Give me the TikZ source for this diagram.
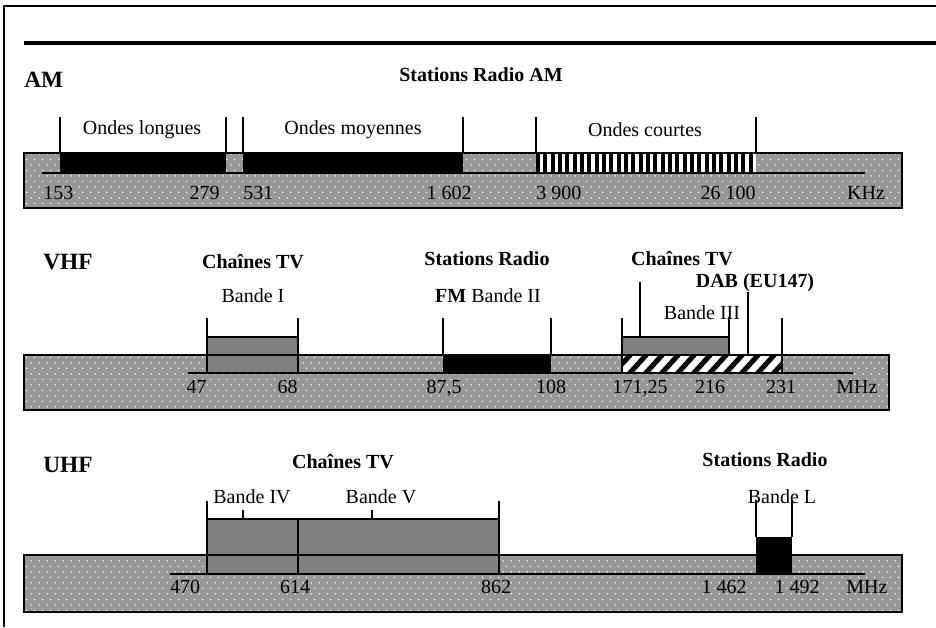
\documentclass[tikz,border=0pt]{standalone}
\usepackage{fontspec}
\setmainfont{Liberation Serif}
\usetikzlibrary{patterns}
\definecolor{bargray}{HTML}{979797}
\definecolor{boxgray}{HTML}{808080}
\definecolor{dotcol}{HTML}{F2F2F2}
\pgfdeclarepatternformonly{dotgrid}{\pgfqpoint{0pt}{0pt}}{\pgfqpoint{4.5pt}{6.6pt}}{\pgfqpoint{4.5pt}{6.6pt}}{%
  \pgfpathcircle{\pgfqpoint{0.7pt}{0.7pt}}{0.55pt}%
  \pgfpathcircle{\pgfqpoint{2.95pt}{4.0pt}}{0.55pt}%
  \pgfusepath{fill}}
\tikzset{
  txt/.style={font=\fontsize{12}{14}\selectfont, inner sep=0pt},
  num/.style={font=\fontsize{12}{14}\selectfont, inner sep=0pt, text depth=0pt},
  hd/.style={font=\fontsize{12}{14}\selectfont\bfseries, inner sep=0pt},
  band/.style={font=\fontsize{14}{16}\selectfont\bfseries, inner sep=0pt, anchor=west},
  tick/.style={line width=0.7pt},
  axis/.style={line width=0.7pt},
  barbg/.style={fill=bargray},
  bardots/.style={pattern=dotgrid, pattern color=dotcol},
  barline/.style={draw=black, line width=0.9pt},
  tvbox/.style={fill=boxgray, draw=black, line width=0.9pt},
  blk/.style={fill=black}
}
\begin{document}
\begin{tikzpicture}[x=0.6pt,y=-0.6pt]
\useasboundingbox (0,0) rectangle (936,627);
% frame
\draw[line width=0.8pt] (936,6) -- (4,6) -- (4,627);
\draw[line width=2.7pt] (24,43) -- (936,43);

%% ---------------- AM ----------------
\node[band] (am) at (24,80) {AM};
\node[hd] (amtitle) at (481,75) {Stations Radio AM};
\fill[barbg] (24,153) rectangle (902,208);
\fill[bardots] (24,153) rectangle (902,208);
\fill[blk] (60,153) rectangle (226,173);
\fill[blk] (243,153) rectangle (463,173);
\fill[white] (536,153) rectangle (756,173);
\foreach \i in {0,...,29} \fill[black] ({536+\i*7.333},153) rectangle ++(4.1,20);
\draw[axis] (42,173) -- (865,173);
\foreach \x in {60,226,243,463,536,756} \draw[tick] (\x,117) -- (\x,153);
\draw[barline] (24,153) rectangle (902,208);
\node[txt] (ol) at (142,130) {Ondes longues};
\node[txt] (om) at (353,130) {Ondes moyennes};
\node[txt] (oc) at (645,130) {Ondes courtes};
\node[num, anchor=west] (n153) at (43,193) {153};
\node[num, anchor=east] (n279) at (220,193) {279};
\node[num, anchor=west] (n531) at (243,193) {531};
\node[num, anchor=east] (n1602) at (472,193) {1 602};
\node[num, anchor=west] (n3900) at (536,193) {3 900};
\node[num, anchor=east] (n26100) at (756,193) {26 100};
\node[num] (khz) at (866,193) {KHz};

%% ---------------- VHF ----------------
\node[band] (vhf) at (43,262) {VHF};
\node[hd] (tv1) at (253,262) {Chaînes TV};
\node[txt] (b1) at (253,296) {Bande I};
\node[hd] (srfm) at (487,259) {Stations Radio};
\node[txt] (b2) at (488,296) {\textbf{FM} Bande II};
\node[hd] (tv3) at (682,259) {Chaînes TV};
\node[hd] (dab) at (755,283) {DAB (EU147)};
\fill[barbg] (24,355) rectangle (889,410);
\fill[bardots] (24,355) rectangle (889,410);
\draw[tvbox] (207,373) rectangle (298,337);
\fill[blk] (443,355) rectangle (551,373);
\draw[tvbox] (622,355) rectangle (729,337);
\fill[white] (622,355) rectangle (782,373);
\begin{scope}
  \clip (622,355) rectangle (782,373);
  \foreach \x in {596,612,...,800} \draw[line width=3pt] (\x,375) -- (\x+20,353);
\end{scope}
\draw[line width=0.9pt] (622,355) rectangle (782,373);
\draw[axis] (188,373) -- (853,373);
\draw[tick] (207,318) -- (207,337);
\draw[tick] (298,318) -- (298,337);
\draw[tick] (443,318) -- (443,355);
\draw[tick] (551,318) -- (551,355);
\draw[tick] (622,318) -- (622,355);
\draw[tick] (640,282) -- (640,337);
\draw[tick] (748,292) -- (748,355);
\draw[tick] (782,318) -- (782,355);
\draw[barline] (24,355) rectangle (889,410);
\node[txt] (b3) at (702,313) {Bande III};
\draw[tick] (729,317) -- (729,337);
\node[num, anchor=east] (n47) at (207,387) {47};
\node[num, anchor=east] (n68) at (298,387) {68};
\node[num] (n875) at (444,387) {87,5};
\node[num] (n108) at (551,387) {108};
\node[num] (n17125) at (640,387) {171,25};
\node[num] (n216) at (710,387) {216};
\node[num] (n231) at (781,387) {231};
\node[num] (mhz1) at (857,387) {MHz};

%% ---------------- UHF ----------------
\node[band] (uhf) at (43,465) {UHF};
\node[hd] (tv45) at (343,462) {Chaînes TV};
\node[hd] (srl) at (765,460) {Stations Radio};
\fill[barbg] (24,555) rectangle (902,612);
\fill[bardots] (24,555) rectangle (902,612);
\draw[tvbox] (207,574) rectangle (298,519);
\draw[tvbox] (298,574) rectangle (499,519);
\fill[blk] (756,537) rectangle (792,574);
\draw[axis] (170,574) -- (865,574);
\draw[tick] (207,501) -- (207,519);
\draw[tick] (499,501) -- (499,519);
\draw[tick] (756,500) -- (756,537);
\draw[tick] (792,500) -- (792,537);
\draw[barline] (24,555) rectangle (902,612);
\node[txt] (b4) at (252,497) {Bande IV};
\node[txt] (b5) at (381,497) {Bande V};
\node[txt] (bl) at (782,497) {Bande L};
\draw[tick] (243,510) -- (243,519);
\draw[tick] (372,510) -- (372,519);
\node[num] (n470) at (185,587) {470};
\node[num] (n614) at (295,587) {614};
\node[num] (n862) at (496,587) {862};
\node[num] (n1462) at (724,587) {1 462};
\node[num] (n1492) at (797,587) {1 492};
\node[num] (mhz2) at (867,587) {MHz};
\end{tikzpicture}
\end{document}
